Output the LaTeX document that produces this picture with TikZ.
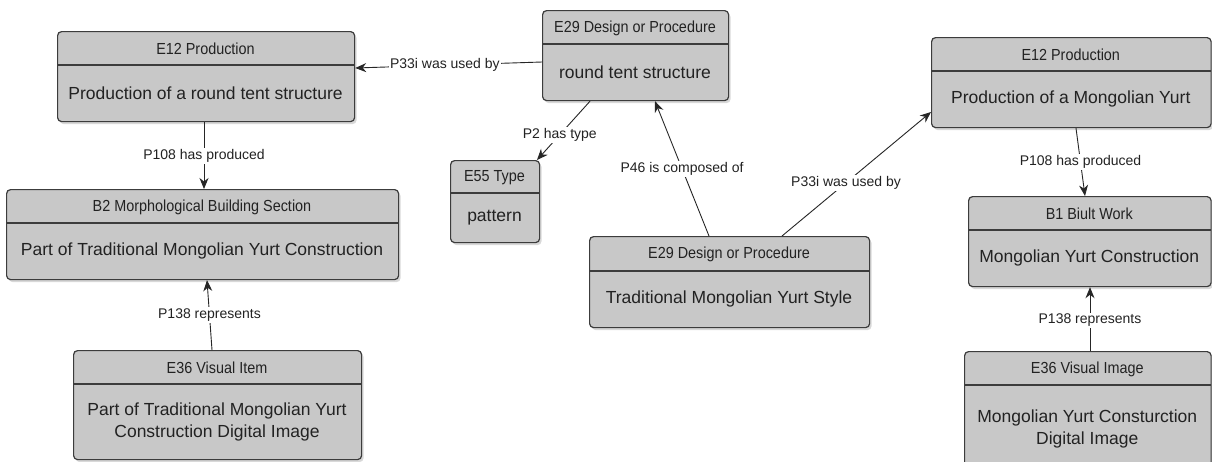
\documentclass[tikz,border=0pt]{standalone}
\usepackage{fontspec}
\setmainfont{Liberation Sans}
\newfontfamily\narrowfont[FakeStretch=0.9]{Liberation Sans}
\usetikzlibrary{arrows.meta,shadows}

\definecolor{boxfill}{HTML}{C8C8C8}
\definecolor{boxline}{HTML}{3C3C3C}
\definecolor{inktext}{HTML}{222222}

\tikzset{
  boxframe/.style={draw=boxline, line width=1.2pt, fill=boxfill, rounded corners=4pt,
    anchor=north west, inner sep=0pt,
    drop shadow={opacity=0.3, shadow xshift=2pt, shadow yshift=-2.5pt}},
  divider/.style={draw=boxline, line width=1.2pt},
  headtext/.style={font=\narrowfont\fontsize{16}{18}\selectfont, text=inktext, inner sep=0pt},
  bodytext/.style={font=\fontsize{17.5}{22}\selectfont, text=inktext, align=center, inner sep=0pt},
  rel/.style={draw=black!85, line width=0.9pt, -{Stealth[length=11pt,width=9pt,inset=3.5pt]}},
  lbl/.style={fill=white, inner sep=1.5pt, font=\fontsize{14}{16}\selectfont, text=inktext},
}

% \classbox{name}{x1}{y1}{x2}{y2}{divider y}{header}{body}
\newcommand\classbox[8]{%
  \node[boxframe, minimum width={(#4-#2)*1pt}, minimum height={(#5-#3)*1pt}] (#1) at (#2,#3) {};
  \draw[divider] (#2,#6) -- (#4,#6);
  \node[headtext] (#1-h) at ({(#2+#4)/2},{(#3+#6)/2+1}) {#7};
  \node[bodytext] (#1-b) at ({(#2+#4)/2},{(#6+#5)/2}) {#8};
}

\begin{document}
\begin{tikzpicture}[x=1pt,y=-1pt]
  \useasboundingbox[fill=white] (0,0) rectangle (1212,461);

  \classbox{prodtent}{57}{31}{354}{121}{65}{E12 Production}{Production of a round tent structure}
  \classbox{section}{6}{189}{398}{279}{223}{B2 Morphological Building Section}{Part of Traditional Mongolian Yurt Construction}
  \classbox{itemimg}{73}{350}{361}{459}{384}{E36 Visual Item}{Part of Traditional Mongolian Yurt\\Construction Digital Image}
  \classbox{tent}{542}{10}{728}{100}{44}{E29 Design or Procedure}{round tent structure}
  \classbox{type}{450}{160}{539}{242}{193}{E55 Type}{pattern}
  \classbox{style}{589}{236}{869}{327}{271}{E29 Design or Procedure}{Traditional Mongolian Yurt Style}
  \classbox{prodyurt}{931}{37}{1210.5}{127}{71}{E12 Production}{Production of a Mongolian Yurt}
  \classbox{work}{968}{196}{1210.5}{286}{230}{B1 Biult Work}{Mongolian Yurt Construction}
  \classbox{visimg}{964}{351}{1210.5}{472}{385}{E36 Visual Image}{Mongolian Yurt Consturction\\Digital Image}

  % relations
  \draw[rel] (tent.west |- 0,62) -- node[lbl, pos=0.52] {P33i was used by} (prodtent.east |- 0,68);
  \draw[rel] (prodtent.south -| 204,0) -- node[lbl] {P108 has produced} (section.north -| 204,0);
  \draw[rel] (itemimg.north -| 212,0) -- node[lbl] {P138 represents} (section.south -| 207,0);
  \draw[rel] (tent.south -| 590,0) -- node[lbl, pos=0.57] {P2 has type} (type.north -| 537,0);
  \draw[rel] (style.north -| 709,0) -- node[lbl] {P46 is composed of} (tent.south -| 655,0);
  \draw[rel] (style.north -| 782,0) -- node[lbl, pos=0.43] {P33i was used by} (prodyurt.west |- 0,112);
  \draw[rel] (prodyurt.south -| 1076,0) -- node[lbl] {P108 has produced} (work.north -| 1085,0);
  \draw[rel] (visimg.north -| 1090,0) -- node[lbl, pos=0.48] {P138 represents} (work.south -| 1090,0);
\end{tikzpicture}
\end{document}
